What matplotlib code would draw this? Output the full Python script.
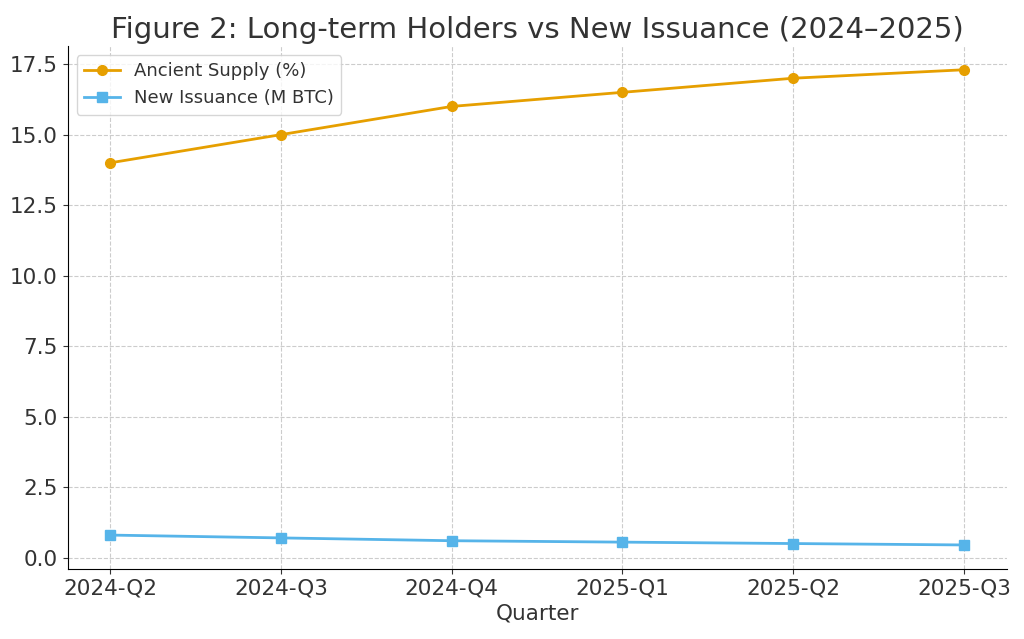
import numpy as np
import matplotlib.pyplot as plt

quarters = ["2024-Q2", "2024-Q3", "2024-Q4", "2025-Q1", "2025-Q2", "2025-Q3"]
ancient = [14.0, 15.0, 16.0, 16.5, 17.0, 17.3]
issuance = [0.8, 0.7, 0.6, 0.55, 0.5, 0.45]

txt = "#333333"
plt.rcParams['text.color'] = txt
plt.rcParams['axes.labelcolor'] = txt
plt.rcParams['xtick.color'] = txt
plt.rcParams['ytick.color'] = txt

f, ax = plt.subplots(1, figsize=(10.24, 6.39), dpi=100)
x = np.arange(len(quarters))
ax.plot(x, ancient, color="#E69F00", marker="o", lw=2, ms=7, label="Ancient Supply (%)")
ax.plot(x, issuance, color="#56B4E9", marker="s", lw=2, ms=7, label="New Issuance (M BTC)")

ax.set_xticks(x)
ax.set_xticklabels(quarters)
ax.tick_params(labelsize=15.5)
ax.set_xlabel("Quarter", fontsize=15.5)
ax.set_title("Figure 2: Long-term Holders vs New Issuance (2024\u20132025)", fontsize=21)
ax.grid(True, ls="--", color="#cccccc", lw=0.8)
ax.spines["top"].set_visible(False)
ax.spines["right"].set_visible(False)
ax.legend(loc="upper left", fontsize=13)

plt.subplots_adjust(left=0.066, right=0.983, top=0.928, bottom=0.11)
plt.savefig("out.png")
plt.close()
